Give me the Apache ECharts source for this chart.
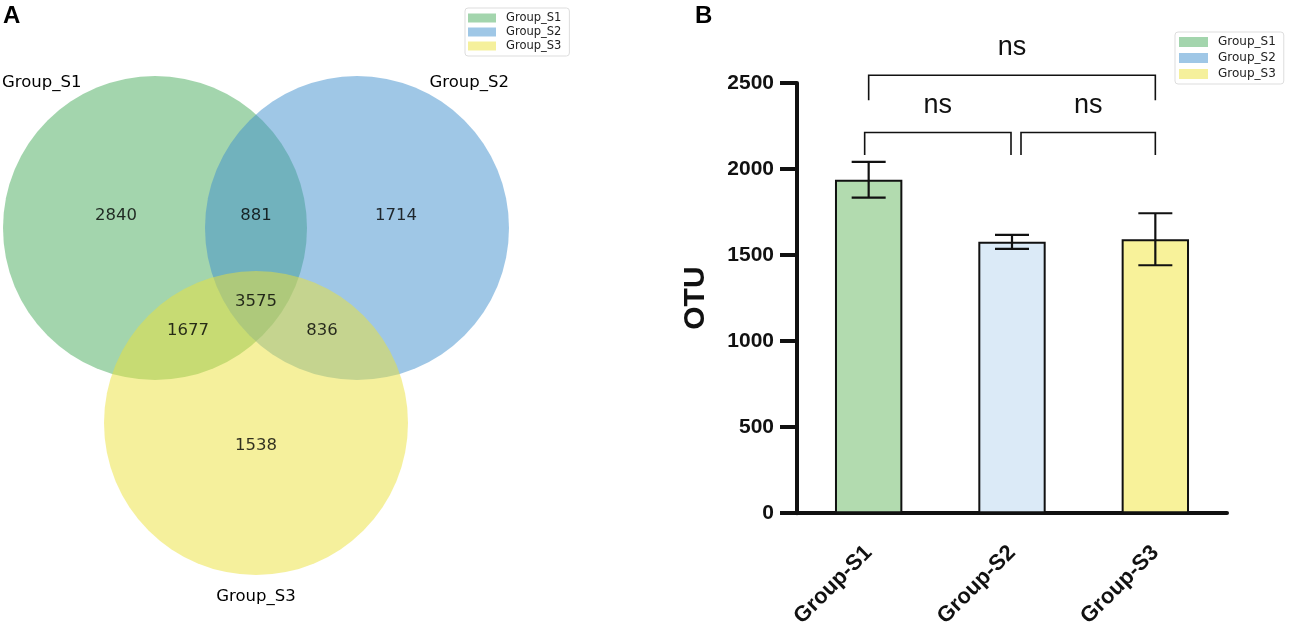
<!DOCTYPE html>
<html>
<head>
    <meta charset="utf-8">
    <title>Venn + OTU</title>
    <script src="https://cdn.jsdelivr.net/npm/echarts@6.0.0/dist/echarts.min.js"></script>
    <style>
        html, body {margin:0;padding:0;background:#fff;}
        #main {width:1290px;height:630px;}
    </style>
</head>
<body>
<div id="main"></div>
<script>
    // ---- data ----
    var groups = ['Group_S1', 'Group_S2', 'Group_S3'];
    var vennRegions = ['S1', 'S1&S2', 'S2', 'S1&S2&S3', 'S1&S3', 'S2&S3', 'S3'];
    var vennCounts = [2840, 881, 1714, 3575, 1677, 836, 1538];

    var barCategories = ['Group-S1', 'Group-S2', 'Group-S3'];
    var otuMean = [1938, 1577, 1592];
    var otuErr = [104, 41, 151];
    var yTicks = [0, 500, 1000, 1500, 2000, 2500];

    var comparisons = [[0, 1], [1, 2], [0, 2]];
    var compLabels = ['ns', 'ns', 'ns'];
    var compHeights = [2212, 2212, 2545];
    var compLegEnds = [2081, 2081, 2400];
    var compTextHeights = [2371, 2371, 2707];

    // ---- styles / layout ----
    var vennBase = ['rgb(71,171,91)', 'rgb(63,143,205)', 'rgb(235,225,57)'];
    var swatch = ['#a3d5ad', '#9fc7e6', '#f5f09c'];
    var barColors = ['#b2dbaf', '#dbeaf7', '#f8f29a'];
    // venn laid out in the left panel's pixel-like units
    var vennLayout = {
        r: 152,
        centers: [[155, 228], [357, 228], [256, 423]],
        names: [[2, 83, 'left'], [509, 83, 'right'], [256, 597, 'center']],
        regions: [[116, 216], [256, 216], [396, 216], [256, 302], [188, 331], [322, 331], [256, 446]]
    };
    var vennFont = 'DejaVu Sans';
    var barFont = 'Liberation Sans';
    var bracketNudge = [[-4, -1], [9, 0], [0, 0]];

    var chart = echarts.init(document.getElementById('main'));

    var series = [];
    groups.forEach(function (g, i) {
        series.push({
            name: g,
            type: 'custom',
            xAxisIndex: 0,
            yAxisIndex: 0,
            itemStyle: {color: vennBase[i]},
            data: [[vennLayout.centers[i][0], vennLayout.centers[i][1]]],
            renderItem: function (params, api) {
                var c = api.coord([api.value(0), api.value(1)]);
                var r = api.size([vennLayout.r, 0])[0];
                return {
                    type: 'circle',
                    shape: {cx: c[0], cy: c[1], r: r},
                    style: {fill: api.visual('color'), opacity: 0.5}
                };
            },
            z: 2 + i
        });
    });

    series.push({
        name: 'vennText',
        type: 'scatter',
        xAxisIndex: 0,
        yAxisIndex: 0,
        symbolSize: 0,
        silent: true,
        z: 10,
        data: vennCounts.map(function (v, i) {
            return {value: [vennLayout.regions[i][0], vennLayout.regions[i][1], v], name: vennRegions[i]};
        }),
        label: {
            show: true,
            position: 'inside',
            formatter: function (p) { return p.value[2]; },
            fontFamily: vennFont,
            fontSize: 16.5,
            color: '#000'
        }
    });

    series.push({
        name: 'vennNames',
        type: 'custom',
        xAxisIndex: 0,
        yAxisIndex: 0,
        silent: true,
        z: 10,
        data: groups.map(function (g, i) { return [vennLayout.names[i][0], vennLayout.names[i][1], i]; }),
        renderItem: function (params, api) {
            var i = api.value(2);
            var c = api.coord([api.value(0), api.value(1)]);
            return {
                type: 'text',
                style: {
                    text: groups[i], x: c[0], y: c[1],
                    align: vennLayout.names[i][2], verticalAlign: 'middle',
                    fontFamily: vennFont, fontSize: 16.5, fill: '#000'
                }
            };
        }
    });

    series.push({
        name: 'OTU',
        type: 'bar',
        xAxisIndex: 1,
        yAxisIndex: 1,
        barWidth: '47%',
        data: otuMean.map(function (v, i) {
            return {value: v, itemStyle: {color: barColors[i]}};
        }),
        itemStyle: {borderColor: '#111', borderWidth: 2},
        z: 2
    });

    series.push({
        name: 'err',
        type: 'custom',
        xAxisIndex: 1,
        yAxisIndex: 1,
        silent: true,
        z: 5,
        data: otuMean.map(function (v, i) { return [i, v - otuErr[i], v + otuErr[i]]; }),
        renderItem: function (params, api) {
            var lo = api.coord([api.value(0), api.value(1)]);
            var hi = api.coord([api.value(0), api.value(2)]);
            var w = 17;
            var st = {stroke: '#111', lineWidth: 2.2};
            return {
                type: 'group',
                children: [
                    {type: 'line', shape: {x1: lo[0], y1: lo[1], x2: hi[0], y2: hi[1]}, style: st},
                    {type: 'line', shape: {x1: hi[0] - w, y1: hi[1], x2: hi[0] + w, y2: hi[1]}, style: st},
                    {type: 'line', shape: {x1: lo[0] - w, y1: lo[1], x2: lo[0] + w, y2: lo[1]}, style: st}
                ]
            };
        }
    });

    series.push({
        name: 'sig',
        type: 'custom',
        xAxisIndex: 1,
        yAxisIndex: 1,
        silent: true,
        clip: false,
        z: 5,
        data: comparisons.map(function (c, i) {
            return [c[0], c[1], compHeights[i], compLegEnds[i], compTextHeights[i], i];
        }),
        renderItem: function (params, api) {
            var i = api.value(5);
            var a = api.coord([api.value(0), api.value(2)]);
            var b = api.coord([api.value(1), api.value(2)]);
            var leg = api.coord([0, api.value(3)])[1];
            var ty = api.coord([0, api.value(4)])[1];
            var x1 = a[0] + bracketNudge[i][0], x2 = b[0] + bracketNudge[i][1];
            return {
                type: 'group',
                children: [
                    {
                        type: 'polyline',
                        shape: {points: [[x1, leg], [x1, a[1]], [x2, a[1]], [x2, leg]]},
                        style: {stroke: '#111', lineWidth: 1.6, fill: null}
                    },
                    {
                        type: 'text',
                        style: {
                            text: compLabels[i], x: (x1 + x2) / 2, y: ty,
                            align: 'center', verticalAlign: 'middle',
                            fontFamily: barFont, fontSize: 27, fill: '#111'
                        }
                    }
                ]
            };
        }
    });

    function legendData() {
        return groups.map(function (g, i) {
            return {name: g, itemStyle: {color: swatch[i], opacity: 1}};
        });
    }

    chart.setOption({
        animation: false,
        textStyle: {fontFamily: barFont},
        graphic: [
            {type: 'text', left: 3, top: 4, style: {text: 'A', fontFamily: barFont, fontWeight: 'bold', fontSize: 24, fill: '#000'}},
            {type: 'text', left: 695, top: 4, style: {text: 'B', fontFamily: barFont, fontWeight: 'bold', fontSize: 24, fill: '#000'}}
        ],
        legend: [
            {
                left: 465, top: 8,
                orient: 'vertical',
                data: legendData(),
                icon: 'rect',
                itemWidth: 28, itemHeight: 9, itemGap: 2,
                padding: [4, 8, 4, 3],
                borderColor: '#dddddd', borderWidth: 1, borderRadius: 3,
                selectedMode: false,
                textStyle: {fontFamily: vennFont, fontSize: 11.5, color: '#222', padding: [0, 0, 0, 5]}
            },
            {
                left: 1175, top: 32,
                orient: 'vertical',
                data: legendData(),
                icon: 'rect',
                itemWidth: 29, itemHeight: 10, itemGap: 4,
                padding: [4, 8, 4, 4],
                borderColor: '#dddddd', borderWidth: 1, borderRadius: 3,
                selectedMode: false,
                textStyle: {fontFamily: vennFont, fontSize: 12, color: '#222', padding: [0, 0, 0, 5]}
            }
        ],
        grid: [
            {left: 0, top: 0, width: 520, height: 630},
            {left: 797, top: 83, width: 430, height: 431}
        ],
        xAxis: [
            {gridIndex: 0, type: 'value', min: 0, max: 520, show: false},
            {
                gridIndex: 1,
                type: 'category',
                data: barCategories,
                axisLine: {lineStyle: {color: '#111', width: 4}},
                axisTick: {alignWithLabel: true, length: 18, lineStyle: {color: '#111', width: 4}},
                axisLabel: {
                    interval: 0, rotate: 45, margin: 36,
                    fontFamily: barFont, fontWeight: 'bold', fontSize: 22, color: '#111'
                },
                splitLine: {show: false}
            }
        ],
        yAxis: [
            {gridIndex: 0, type: 'value', min: 0, max: 630, inverse: true, show: false},
            {
                gridIndex: 1,
                type: 'value',
                min: yTicks[0],
                max: yTicks[yTicks.length - 1],
                interval: yTicks[1] - yTicks[0],
                name: 'OTU',
                nameLocation: 'middle',
                nameGap: 86,
                nameTextStyle: {fontFamily: barFont, fontWeight: 'bold', fontSize: 30, color: '#111'},
                axisLine: {show: true, lineStyle: {color: '#111', width: 4}},
                axisTick: {show: true, length: 17, lineStyle: {color: '#111', width: 4}},
                axisLabel: {
                    margin: 23, fontFamily: barFont, fontWeight: 'bold', fontSize: 21, color: '#111',
                    formatter: function (v) { return String(v); }
                },
                splitLine: {show: false}
            }
        ],
        series: series
    });
</script>
</body>
</html>
